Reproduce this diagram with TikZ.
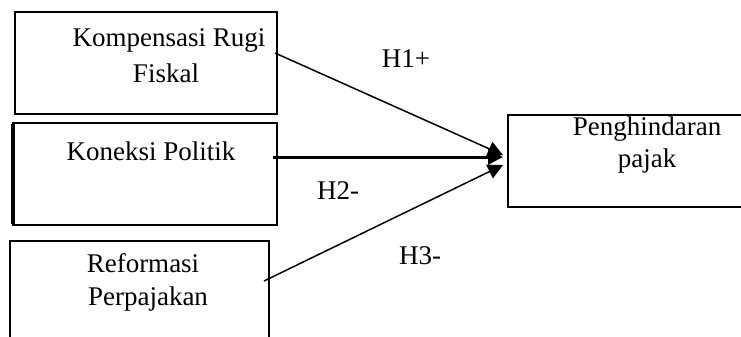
\documentclass[tikz,border=0pt]{standalone}
\usepackage{fontspec}
\setmainfont{Liberation Serif}
\usetikzlibrary{arrows.meta}
\begin{document}
\begin{tikzpicture}[x=1pt,y=-1pt,
  box/.style={draw=black,line width=1.8pt,minimum width=#1,inner sep=0pt},
  lbl/.style={anchor=base,inner sep=0pt,font=\fontsize{27}{31}\selectfont},
  arr/.style={line width=1.5pt,-{Triangle[length=15pt,width=15pt]}}]
\clip (0,0) rectangle (741,337);
\fill[white] (0,0) rectangle (741,337);
% boxes
\node[box=262pt,minimum height=102pt] (k1) at (146,63) {};
\node[box=264pt,minimum height=102pt] (k2) at (145,174) {};
\draw[line width=4pt] ([xshift=0.8pt,yshift=-1.5pt]k2.north west) -- ([xshift=0.8pt,yshift=1.5pt]k2.south west);
\node[box=259pt,minimum height=110pt] (k3) at (139.5,296) {};
\node[box=237pt,minimum height=92pt] (y) at (626.5,161) {};
% texts
\node[lbl] (t1a) at (169,47) {Kompensasi Rugi};
\node[lbl] (t1b) at (166,82) {Fiskal};
\node[lbl] (t2) at (151,160) {Koneksi Politik};
\node[lbl] (t3a) at (143,272) {Reformasi};
\node[lbl] (t3b) at (148,305) {Perpajakan};
\node[lbl] (t4a) at (647,135) {Penghindaran};
\node[lbl] (t4b) at (647,167) {pajak};
\node[lbl] (h1) at (406,67) {H1+};
\node[lbl] (h2) at (338,199) {H2-};
\node[lbl] (h3) at (420,264) {H3-};
% connector endpoints
\coordinate (s1) at (275,53);
\coordinate (s2) at (273,157);
\coordinate (s3) at (264,281);
\coordinate (e1) at (503,155);
\coordinate (e2) at (503,157);
\coordinate (e3) at (503,165);
\draw[arr] (s1) -- (e1);
\draw[arr,line width=3pt] (s2) -- (e2);
\draw[arr] (s3) -- (e3);
\end{tikzpicture}
\end{document}
